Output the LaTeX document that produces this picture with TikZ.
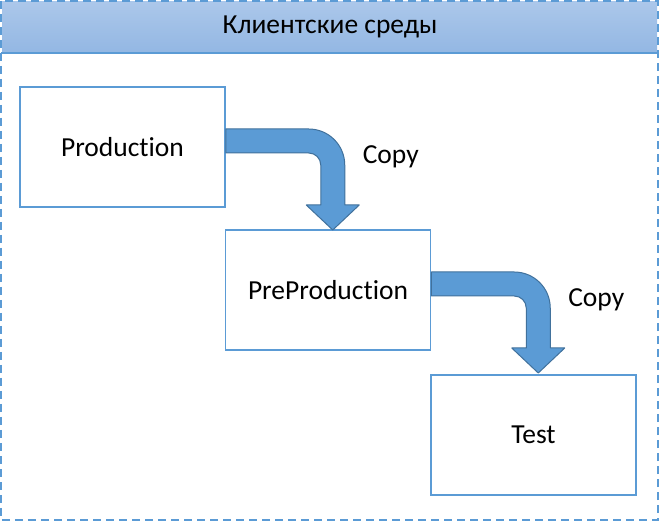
\documentclass[tikz,border=0pt]{standalone}
\usepackage{fontspec}
\setmainfont{Carlito}[Ligatures=NoCommon]
\definecolor{envblue}{HTML}{5B9BD5}
\definecolor{arrowedge}{HTML}{41719C}
\definecolor{headtop}{HTML}{ABC7EA}
\definecolor{headbottom}{HTML}{93B7E3}
\begin{document}
\begin{tikzpicture}[
    x=1pt,y=-1pt,
    env/.style={draw=envblue, line width=1.5pt, fill=white, minimum width=205pt, minimum height=120pt, inner sep=0pt},
    copyarrow/.style={fill=envblue, draw=arrowedge, line width=1pt, line join=round},
    every node/.style={font=\fontsize{27.5}{32}\selectfont}
    ]
    \useasboundingbox (0, 0) rectangle (659, 521);
    \shade[top color=headtop, bottom color=headbottom] (2, 2) rectangle (657, 53);
    \draw[envblue, line width=1.5pt] (1, 53) -- (658, 53);
    \draw[envblue, line width=1.5pt, dash pattern=on 8pt off 5pt] (1, 1) rectangle (658, 520);
    \node (title) at (330, 27) {Клиентские среды};
    \node[env] (prod) at (122.5, 147) {Production};
    \node[env] (pre) at (328, 290) {PreProduction};
    \node[env] (test) at (533.5, 435) {Test};
    \foreach \from/\name in {prod/one, pre/two} {
      \begin{scope}[shift={(\from.east)}]
        \draw[copyarrow] (0, -18) -- (83, -18) arc[start angle=-90, end angle=0, radius=36]
          -- (119, 58) -- (133.5, 58) -- (107, 83) -- (80.5, 58) -- (95, 58)
          -- (95, 18) arc[start angle=0, end angle=-90, radius=12] -- (0, 6) -- cycle;
        \node (copy\name) at (165, 10) {Copy};
      \end{scope}
    }
  \end{tikzpicture}
\end{document}
